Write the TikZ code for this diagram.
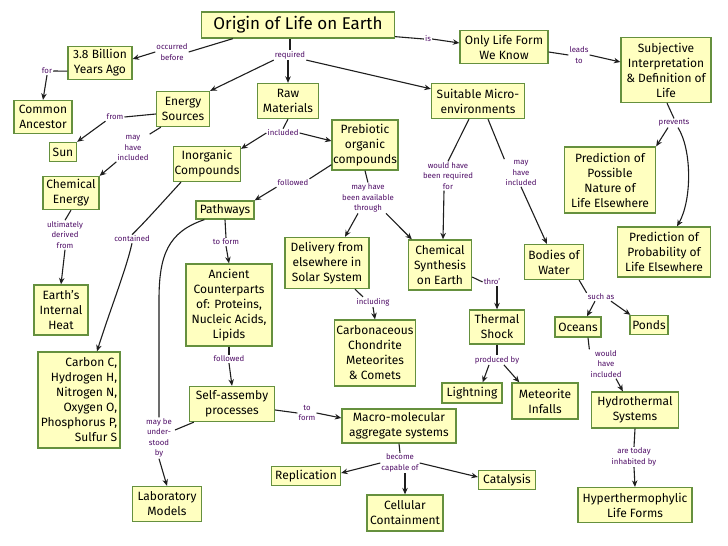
\documentclass[tikz,border=0pt]{standalone}
\usepackage{fontspec}
\setmainfont{Fira Sans}
\usetikzlibrary{arrows.meta,calc}
\definecolor{boxfill}{HTML}{FFFFC0}
\definecolor{boxedge}{HTML}{65903E}
\definecolor{lblcol}{HTML}{4E0C66}
\definecolor{linecol}{HTML}{1E1E1E}
\begin{document}
\begin{tikzpicture}[x=1pt,y=-1pt,
  cbox/.style={draw=boxedge, fill=boxfill, line width=1.3pt, align=center, inner sep=1pt, font=\fontsize{12}{15}\selectfont},
  lbl/.style={text=lblcol, align=center, inner sep=1pt, font=\fontsize{7.8}{10.5}\selectfont},
  link/.style={draw=linecol, line width=1.1pt},
  arr/.style={link, -{Stealth[length=6.5pt,width=5.5pt]}},
  sz/.style 2 args={minimum width=#1pt, minimum height=#2pt}
]
\useasboundingbox[fill=white] (0,0) rectangle (728,546);
% concept boxes
\node[cbox, sz={193}{26}, font=\fontsize{17}{18}\selectfont] (origin) at (298,25) {Origin of Life on Earth};
\node[cbox, sz={64}{33}] (bil) at (100,63) {3.8 Billion\\Years Ago};
\node[cbox, sz={58}{33}] (anc) at (43,117) {Common\\Ancestor};
\node[cbox, sz={53}{35}] (energy) at (183,109) {Energy\\Sources};
\node[cbox, sz={27}{19}] (sun) at (63,152) {Sun};
\node[cbox, sz={56}{33}] (chem) at (71,193) {Chemical\\Energy};
\node[cbox, sz={54}{50}] (heat) at (61,310) {Earth's\\Internal\\Heat};
\node[cbox, sz={82}{96}, align=right] (carbon) at (79,400) {Carbon C,\\Hydrogen H,\\Nitrogen N,\\Oxygen O,\\Phosphorus P,\\Sulfur S};
\node[cbox, sz={61}{35}] (raw) at (288,101) {Raw\\Materials};
\node[cbox, sz={66}{35}] (inorg) at (207,164) {Inorganic\\Compounds};
\node[cbox, sz={64}{50}] (preb) at (365,145) {Prebiotic\\organic\\compounds};
\node[cbox, sz={58}{18}] (path) at (225,210) {Pathways};
\node[cbox, sz={86}{82}] (anc2) at (229,305) {Ancient\\Counterparts\\of: Proteins,\\Nucleic Acids,\\Lipids};
\node[cbox, sz={85}{35}] (self) at (232,404) {Self-assemby\\processes};
\node[cbox, sz={69}{35}] (lab) at (167,504) {Laboratory\\Models};
\node[cbox, sz={84}{51}] (deliv) at (327,263) {Delivery from\\elsewhere in\\Solar System};
\node[cbox, sz={81}{66}] (carbo) at (375,353) {Carbonaceous\\Chondrite\\Meteorites\\\& Comets};
\node[cbox, sz={63}{50}] (synth) at (440,265) {Chemical\\Synthesis\\on Earth};
\node[cbox, sz={55}{34}] (therm) at (497,327) {Thermal\\Shock};
\node[cbox, sz={60}{20}] (light) at (472,393) {Lightning};
\node[cbox, sz={66}{36}] (infall) at (545,401) {Meteorite\\Infalls};
\node[cbox, sz={114}{34}] (macro) at (399,426) {Macro-molecular\\aggregate systems};
\node[cbox, sz={69}{19}] (repl) at (306,476) {Replication};
\node[cbox, sz={76}{36}] (cell) at (405,513) {Cellular\\Containment};
\node[cbox, sz={57}{19}] (cata) at (507,480) {Catalysis};
\node[cbox, sz={93}{35}] (suit) at (478,101) {Suitable Micro-\\environments};
\node[cbox, sz={88}{33}] (only) at (504,47) {Only Life Form\\We Know};
\node[cbox, sz={90}{65}] (subj) at (666,70) {Subjective\\Interpretation\\\& Definition of\\Life};
\node[cbox, sz={91}{66}] (poss) at (610,180) {Prediction of\\Possible\\Nature of\\Life Elsewhere};
\node[cbox, sz={93}{50}] (prob) at (664,252) {Prediction of\\Probability of\\Life Elsewhere};
\node[cbox, sz={59}{35}] (water) at (554,262) {Bodies of\\Water};
\node[cbox, sz={46}{20}] (ocean) at (578,327) {Oceans};
\node[cbox, sz={38}{19}] (pond) at (649,325) {Ponds};
\node[cbox, sz={87}{36}] (hydro) at (635,410) {Hydrothermal\\Systems};
\node[cbox, sz={114}{35}] (hyper) at (635,505) {Hyperthermophylic\\Life Forms};
% link labels
\node[lbl] (l1) at (172,52) {occurred\\before};
\node[lbl] (l2) at (47,71) {for};
\node[lbl] (l3) at (290,55) {required};
\node[lbl] (l4) at (428,39) {is};
\node[lbl] (l5) at (579,55) {leads\\to};
\node[lbl] (l6) at (115,117) {from};
\node[lbl] (l7) at (133,148) {may\\have\\included};
\node[lbl] (l8) at (65,235) {ultimately\\derived\\from};
\node[lbl] (l9) at (132,239) {contained};
\node[lbl] (l10) at (283,133) {included};
\node[lbl] (l11) at (293,183) {followed};
\node[lbl] (l12) at (368,198) {may have\\been available\\through};
\node[lbl] (l13) at (448,176) {would have\\been required\\for};
\node[lbl] (l14) at (521,173) {may\\have\\included};
\node[lbl] (l15) at (674,123) {prevents};
\node[lbl] (l16) at (226,242) {to form};
\node[lbl] (l17) at (229,359) {followed};
\node[lbl] (l18) at (307,413) {to\\form};
\node[lbl] (l19) at (373,302) {including};
\node[lbl] (l20) at (492,282) {thro'};
\node[lbl] (l21) at (497,360) {produced by};
\node[lbl] (l22) at (400,463) {become\\capable of};
\node[lbl] (l23) at (601,297) {such as};
\node[lbl] (l24) at (606,364) {would\\have\\included};
\node[lbl] (l25) at (634,457) {are today\\inhabited by};
\node[lbl] (l26) at (159,438) {may be\\under-\\stood\\by};
% connectors
\draw[link] ($(origin.south west)+(32,0)$) -- (l1.east);
\draw[arr] (l1.west) -- ($(bil.east)+(0,-4)$);
\draw[link] ($(bil.south west)+(0,-9)$) -- (l2.east);
\draw[arr] (l2.south) -- (anc.north);
\draw[link] (origin.south -| l3.north) -- (l3.north);
\draw[arr] (l3.south west) -- (energy.north east);
\draw[arr] (l3.south -| raw.north) -- (raw.north);
\draw[arr] (l3.south east) -- ($(suit.north west)+(0,6)$);
\draw[link] ($(origin.south east)+(0,-2)$) -- (l4.west);
\draw[arr] (l4.east) -- ($(only.west)+(0,-4)$);
\draw[link] ($(only.east)+(0,5)$) -- (l5.west);
\draw[arr] (l5.east) -- ($(subj.west)+(0,-8)$);
\draw[link] ($(energy.west)+(0,5)$) -- (l6.east);
\draw[arr] (l6.south west) -- (sun.north east);
\draw[link] ($(energy.south west)+(5,0)$) -- (l7.north east);
\draw[arr] (l7.south west) -- (chem.north east);
\draw[link] (chem.south) -- (l8.north);
\draw[arr] (l8.south) -- (heat.north);
\draw[link] ($(inorg.south west)+(8,0)$) .. controls (160,205) and (145,222) .. (l9.north);
\draw[arr] (l9.south) .. controls (126,270) and (110,310) .. ($(carbon.north)+(18,0)$);
\draw[link] (raw.south) -- (l10.north);
\draw[arr] (l10.west) -- ($(inorg.north east)+(0,3)$);
\draw[arr] (l10.east) -- ($(preb.west)+(0,-4)$);
\draw[link] ($(preb.south west)+(0,-6)$) -- (l11.north east);
\draw[arr] (l11.south west) -- (path.north east);
\draw[link] (preb.south) -- (l12.north);
\draw[arr] ($(l12.south)+(-10,0)$) -- ($(deliv.north)+(18,0)$);
\draw[arr] ($(l12.south)+(18,0)$) -- ($(synth.north west)+(4,0)$);
\draw[link] ($(suit.south)+(-9,0)$) -- (l13.north);
\draw[arr] ($(l13.south)+(-4,0)$) -- ($(synth.north)+(3,0)$);
\draw[link] ($(suit.south)+(10,0)$) -- (l14.north west);
\draw[arr] (l14.south) -- ($(water.north west)+(23,0)$);
\draw[link] (path.south) -- (l16.north);
\draw[arr] (l16.south) -- (anc2.north);
\draw[link] ($(path.south west)+(9,0)$) .. controls (168,232) and (159,255) .. (159,300) -- (l26.north);
\draw[link] ($(self.south west)+(5,0)$) -- ($(l26.east)+(2,-8)$);
\draw[arr] (l26.south) -- (lab.north);
\draw[link] (anc2.south) -- (l17.north);
\draw[arr] (l17.south) -- (self.north);
\draw[link] ($(self.east)+(0,6)$) -- (l18.west);
\draw[arr] (l18.east) -- ($(macro.west)+(0,-8)$);
\draw[link] ($(deliv.south)+(28,0)$) -- ($(l19.north)+(-10,0)$);
\draw[arr] (l19.south) -- (carbo.north);
\draw[link] ($(synth.east)+(0,12)$) -- (l20.west);
\draw[arr] (l20.south -| therm.north) -- (therm.north);
\draw[link] (therm.south) -- (l21.north);
\draw[arr] ($(l21.south)+(-8,0)$) -- ($(light.north east)+(-20,0)$);
\draw[arr] ($(l21.south)+(7,0)$) -- ($(infall.north west)+(8,0)$);
\draw[link] (macro.south) -- (l22.north);
\draw[arr] (l22.west) -- ($(repl.east)+(0,-3)$);
\draw[arr] (l22.south -| cell.north) -- (cell.north);
\draw[arr] (l22.east) -- ($(cata.west)+(0,-3)$);
\draw[link] ($(water.south east)+(-5,0)$) -- (l23.north west);
\draw[arr] ($(l23.south)+(-6,0)$) -- ($(ocean.north)+(9,0)$);
\draw[arr] ($(l23.south)+(10,0)$) -- ($(pond.north west)+(1,0)$);
\draw[link] ($(ocean.south)+(10,0)$) -- (l24.north west);
\draw[arr] ($(l24.south)+(10,0)$) -- ($(hydro.north west)+(32,0)$);
\draw[link] (hydro.south) -- (l25.north);
\draw[arr] (l25.south) -- (hyper.north);
\draw[link] ($(subj.south)+(1,0)$) -- (l15.north);
\draw[arr] ($(l15.south)+(-6,0)$) -- (poss.north east);
\draw[arr] ($(l15.south)+(4,0)$) .. controls (692,150) and (692,200) .. ($(prob.north)+(13,0)$);
\end{tikzpicture}
\end{document}
